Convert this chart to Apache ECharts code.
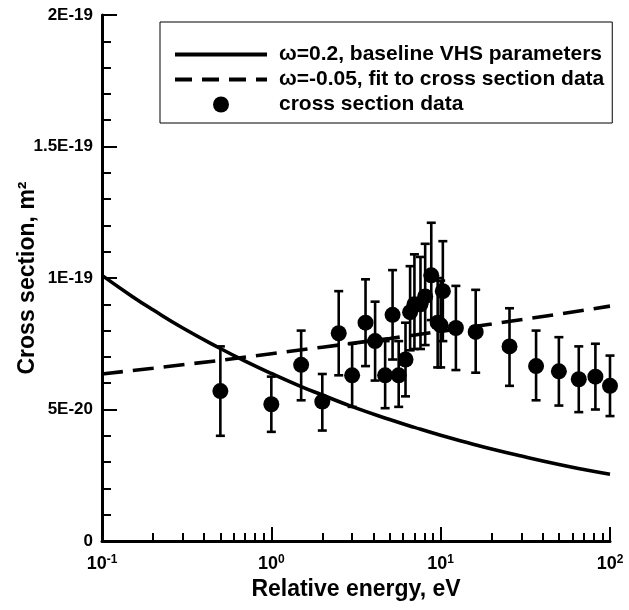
<!DOCTYPE html>
<html>
<head>
<meta charset="utf-8">
<script src="https://cdn.jsdelivr.net/npm/echarts@6/dist/echarts.min.js"></script>
<style>html,body{margin:0;padding:0;background:#fff;}#c{width:629px;height:610px;}</style>
</head>
<body>
<div id="c"></div>
<script>
// values in units of 1E-20 m^2
var dataE    = [0.5, 1.0, 1.5, 2.0, 2.5, 3.0, 3.6, 4.1, 4.7, 5.2, 5.65, 6.2, 6.6, 7.0, 7.6, 8.1, 8.8, 9.6, 10.0, 10.3, 12.3, 16.1, 25.5, 36.6, 49.9, 65.4, 82.0, 100.0];
var dataVal  = [5.7, 5.2, 6.7, 5.3, 7.9, 6.3, 8.3, 7.6, 6.3, 8.6, 6.3, 6.9, 8.7, 9.0, 9.0, 9.3, 10.1, 8.3, 8.2, 9.5, 8.1, 7.95, 7.4, 6.65, 6.45, 6.15, 6.25, 5.9];
var dataLow  = [4.0, 4.15, 5.35, 4.2, 6.3, 5.1, 6.65, 6.1, 5.05, 6.9, 5.1, 5.5, 7.25, 7.3, 7.3, 7.45, 8.4, 6.6, 6.6, 7.6, 6.5, 6.4, 5.9, 5.35, 5.15, 4.9, 5.0, 4.75];
var dataHigh = [7.4, 6.25, 8.0, 6.35, 9.5, 7.5, 9.95, 9.1, 7.6, 10.3, 7.6, 8.3, 10.45, 10.9, 10.8, 11.3, 12.1, 10.0, 9.9, 11.4, 9.7, 9.55, 8.85, 8.0, 7.75, 7.4, 7.5, 7.05];

var solidE   = [0.1, 0.15, 0.2, 0.3, 0.5, 0.7, 1, 1.5, 2, 3, 5, 7, 10, 15, 20, 30, 50, 70, 100];
var solidVal = [10.10, 9.31, 8.79, 8.10, 7.32, 6.84, 6.37, 5.87, 5.55, 5.11, 4.62, 4.32, 4.02, 3.71, 3.50, 3.23, 2.91, 2.72, 2.54];
var dashE    = [0.1, 0.2, 0.5, 1, 2, 5, 10, 20, 50, 100];
var dashVal  = [6.35, 6.57, 6.87, 7.12, 7.37, 7.70, 7.97, 8.25, 8.63, 8.93];

var names = ['\u03c9=0.2, baseline VHS parameters', '\u03c9=-0.05, fit to cross section data', 'cross section data'];
var yTickVals = [0, 5, 10, 15, 20];
var yTickLabels = ['0', '5E-20', '1E-19', '1.5E-19', '2E-19'];
var xTickVals = [0.1, 1, 10, 100];
var xTickExp = ['-1', '0', '1', '2'];
var xMinorTicks = [0.2,0.3,0.4,0.5,0.6,0.7,0.8,0.9,2,3,4,5,6,7,8,9,20,30,40,50,60,70,80,90];

var FONT = '"Liberation Sans", Arial, Helvetica, sans-serif';

function zip(a, b) { return a.map(function (v, i) { return [v, b[i]]; }); }
var errData = dataE.map(function (e, i) { return [e, dataLow[i], dataHigh[i]]; });

var hiddenSym = {color: 'rgba(0,0,0,0)', borderWidth: 0};

var chart = echarts.init(document.getElementById('c'), null, {renderer: 'canvas'});
chart.setOption({
  animation: false,
  backgroundColor: '#fff',
  grid: {left: 102, right: 19, top: 15, bottom: 69, containLabel: false, outerBoundsMode: 'none'},
  legend: {
    orient: 'vertical',
    left: 160, top: 22,
    padding: [22, 8, 8, 13],
    itemWidth: 92, itemHeight: 16, itemGap: 4,
    borderColor: '#000', borderWidth: 1,
    textStyle: {fontFamily: FONT, fontSize: 21, fontWeight: 'bold', color: '#000', padding: [0, 0, 0, 7]},
    data: [
      {name: names[0], itemStyle: hiddenSym, lineStyle: {width: 4, color: '#000', type: 'solid'}},
      {name: names[1], itemStyle: hiddenSym, lineStyle: {width: 4, color: '#000', type: [17, 10]}},
      {name: names[2]}
    ]
  },
  xAxis: [{
    type: 'log', logBase: 10, min: 0.1, max: 100,
    name: 'Relative energy, eV', nameLocation: 'middle', nameGap: 37, nameMoveOverlap: false,
    nameTextStyle: {fontFamily: FONT, fontSize: 23, fontWeight: 'bold', color: '#000'},
    axisLine: {show: true, onZero: false, lineStyle: {color: '#000', width: 3}},
    axisTick: {show: true, inside: true, length: 14, lineStyle: {color: '#000', width: 2}},
    minorTick: {show: false},
    splitLine: {show: false},
    axisLabel: {
      margin: 13,
      formatter: function (v) {
        var idx = xTickVals.findIndex(function (t) { return Math.abs(Math.log10(t) - Math.log10(v)) < 1e-6; });
        return '{b|10}{s|' + (idx >= 0 ? xTickExp[idx] : '') + '}';
      },
      rich: {
        b: {fontFamily: FONT, fontSize: 18, fontWeight: 'bold', color: '#000'},
        s: {fontFamily: FONT, fontSize: 12, fontWeight: 'bold', color: '#000', padding: [0, 0, 9, 0]}
      }
    }
  }, {
    type: 'log', logBase: 10, min: 0.1, max: 100, position: 'bottom',
    axisLine: {show: false},
    axisLabel: {show: false},
    splitLine: {show: false},
    axisTick: {show: true, inside: true, length: 8, customValues: xMinorTicks, lineStyle: {color: '#000', width: 2}}
  }],
  yAxis: {
    type: 'value', min: 0, max: 20, interval: 5,
    name: 'Cross section, m\u00b2', nameLocation: 'middle', nameGap: 63, nameRotate: 90, nameMoveOverlap: false,
    nameTextStyle: {fontFamily: FONT, fontSize: 23, fontWeight: 'bold', color: '#000'},
    axisLine: {show: true, lineStyle: {color: '#000', width: 3}},
    axisTick: {show: true, inside: true, length: 15, lineStyle: {color: '#000', width: 2}},
    minorTick: {show: true, splitNumber: 5, length: 9, lineStyle: {color: '#000', width: 2}},
    splitLine: {show: false},
    axisLabel: {
      margin: 9,
      fontFamily: FONT, fontSize: 17, fontWeight: 'bold', color: '#000',
      formatter: function (v) {
        var i = yTickVals.indexOf(Math.round(v));
        return i >= 0 ? yTickLabels[i] : '';
      }
    }
  },
  series: [{
    name: names[0], type: 'line', data: zip(solidE, solidVal), smooth: true,
    symbol: 'none', lineStyle: {color: '#000', width: 3.6}, itemStyle: {color: '#000'}, z: 3
  }, {
    name: names[1], type: 'line', data: zip(dashE, dashVal),
    symbol: 'none', lineStyle: {color: '#000', width: 3.6, type: [21, 10]}, itemStyle: {color: '#000'}, z: 3
  }, {
    type: 'custom', data: errData, clip: false, z: 4,
    encode: {x: 0, y: [1, 2]},
    renderItem: function (params, api) {
      var lo = api.coord([api.value(0), api.value(1)]);
      var hi = api.coord([api.value(0), api.value(2)]);
      var w = 4.5;
      var st = {stroke: '#000', lineWidth: 2.6};
      return {type: 'group', children: [
        {type: 'line', shape: {x1: lo[0], y1: lo[1], x2: hi[0], y2: hi[1]}, style: st},
        {type: 'line', shape: {x1: lo[0] - w, y1: lo[1], x2: lo[0] + w, y2: lo[1]}, style: st},
        {type: 'line', shape: {x1: hi[0] - w, y1: hi[1], x2: hi[0] + w, y2: hi[1]}, style: st}
      ]};
    }
  }, {
    name: names[2], type: 'scatter', data: zip(dataE, dataVal), clip: false,
    symbol: 'circle', symbolSize: 16, itemStyle: {color: '#000', opacity: 1}, z: 5
  }]
});
</script>
</body>
</html>
